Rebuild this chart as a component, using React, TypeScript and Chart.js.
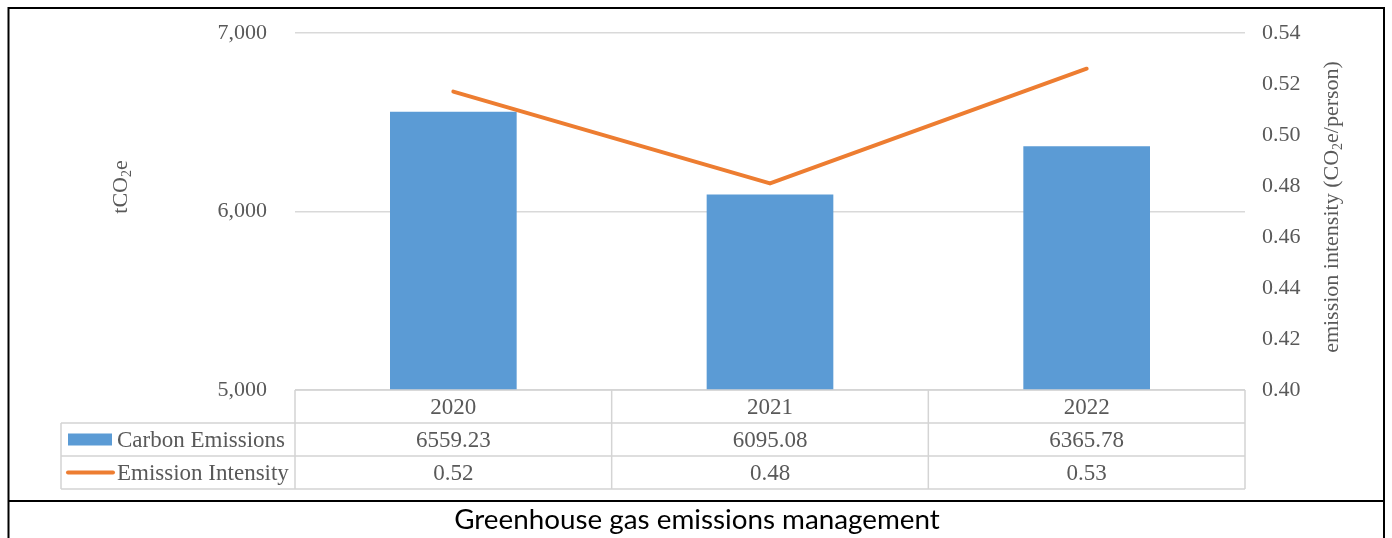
import React, { useEffect, useRef } from "react";
import { Chart, registerables } from "chart.js";

Chart.register(...registerables);

// ---- data ----
const years = ["2020", "2021", "2022"];
const carbonEmissions = [6559.23, 6095.08, 6365.78];
const emissionIntensity = [0.517, 0.481, 0.526];
const seriesNames = ["Carbon Emissions", "Emission Intensity"];
const leftAxisTitle = [
  { t: "tCO", sub: false },
  { t: "2", sub: true },
  { t: "e", sub: false },
];
const rightAxisTitle = [
  { t: "emission intensity (CO", sub: false },
  { t: "2", sub: true },
  { t: "e/person)", sub: false },
];
const caption = "Greenhouse gas emissions management";

const BLUE = "#5B9BD5";
const ORANGE = "#ED7D31";
const GRID = "#d9d9d9";
const TEXT = "#595959";
const SERIF = "'Liberation Serif', 'Times New Roman', serif";
const FS = 22;
const TFS = 23;

function drawVerticalWithSub(ctx: CanvasRenderingContext2D, parts: { t: string; sub: boolean }[], cx: number, cy: number, size: number) {
  const subSize = Math.round(size * 0.65);
  let total = 0;
  const widths = parts.map((p) => {
    ctx.font = `${p.sub ? subSize : size}px ${SERIF}`;
    const w = ctx.measureText(p.t).width;
    total += w;
    return w;
  });
  ctx.save();
  ctx.translate(cx, cy);
  ctx.rotate(-Math.PI / 2);
  ctx.fillStyle = TEXT;
  ctx.textBaseline = "middle";
  ctx.textAlign = "left";
  let x = -total / 2;
  parts.forEach((p, i) => {
    ctx.font = `${p.sub ? subSize : size}px ${SERIF}`;
    ctx.fillText(p.t, x, p.sub ? size * 0.28 : 0);
    x += widths[i];
  });
  ctx.restore();
}

const decorPlugin = {
  id: "decor",
  afterDraw(chart: any) {
    const ctx: CanvasRenderingContext2D = chart.ctx;
    const area = chart.chartArea;
    const xs = chart.scales.x;
    const n = years.length;
    const colW = (area.right - area.left) / n;
    const top = area.bottom;
    const rowH = 33;
    const legendLeft = 61;

    ctx.save();
    // table lines
    ctx.strokeStyle = "#d4d4d4";
    ctx.lineWidth = 1.5;
    ctx.beginPath();
    ctx.moveTo(area.left, top);
    ctx.lineTo(area.right, top);
    for (let r = 1; r <= 3; r++) {
      ctx.moveTo(legendLeft, top + r * rowH);
      ctx.lineTo(area.right, top + r * rowH);
    }
    ctx.moveTo(legendLeft, top + rowH);
    ctx.lineTo(legendLeft, top + 3 * rowH);
    for (let c = 0; c <= n; c++) {
      const x = area.left + c * colW;
      ctx.moveTo(x, top);
      ctx.lineTo(x, top + 3 * rowH);
    }
    ctx.stroke();

    // table text
    ctx.fillStyle = TEXT;
    ctx.font = `${TFS}px ${SERIF}`;
    ctx.textAlign = "center";
    ctx.textBaseline = "middle";
    for (let i = 0; i < n; i++) {
      const cx = xs.getPixelForValue(i);
      ctx.fillText(years[i], cx, top + rowH * 0.5 + 1);
      ctx.fillText(carbonEmissions[i].toFixed(2), cx, top + rowH * 1.5 + 1);
      ctx.fillText(emissionIntensity[i].toFixed(2), cx, top + rowH * 2.5 + 1);
    }

    // legend keys
    ctx.fillStyle = BLUE;
    ctx.fillRect(68, top + rowH * 1.5 - 6, 44, 12);
    ctx.strokeStyle = ORANGE;
    ctx.lineWidth = 4;
    ctx.lineCap = "round";
    ctx.beginPath();
    ctx.moveTo(68, top + rowH * 2.5);
    ctx.lineTo(113, top + rowH * 2.5);
    ctx.stroke();
    ctx.fillStyle = TEXT;
    ctx.textAlign = "left";
    ctx.fillText(seriesNames[0], 117, top + rowH * 1.5 + 1);
    ctx.fillText(seriesNames[1], 117, top + rowH * 2.5 + 1);

    // axis titles
    drawVerticalWithSub(ctx, leftAxisTitle, 121, 187, FS);
    drawVerticalWithSub(ctx, rightAxisTitle, 1332, 207, FS);

    // frame
    ctx.strokeStyle = "#000";
    ctx.lineWidth = 2;
    ctx.lineCap = "butt";
    ctx.beginPath();
    ctx.moveTo(8.5, 7);
    ctx.lineTo(8.5, 538);
    ctx.moveTo(7.5, 8);
    ctx.lineTo(1385, 8);
    ctx.moveTo(1384, 7);
    ctx.lineTo(1384, 538);
    ctx.moveTo(7.5, 501);
    ctx.lineTo(1385, 501);
    ctx.stroke();

    // caption
    ctx.fillStyle = "#000";
    ctx.textAlign = "center";
    ctx.textBaseline = "alphabetic";
    ctx.font = `24px Lato, 'Open Sans', sans-serif`;
    const w24 = ctx.measureText(caption).width;
    const size = Math.round(((24 * 486) / w24) * 10) / 10;
    ctx.font = `${size}px Lato, 'Open Sans', sans-serif`;
    ctx.fillText(caption, 697, 529);
    ctx.restore();
  },
};

export default function App() {
  const ref = useRef<HTMLCanvasElement | null>(null);
  useEffect(() => {
    if (!ref.current) return;
    const chart = new Chart(ref.current, {
      type: "bar",
      data: {
        labels: years,
        datasets: [
          {
            type: "line",
            label: seriesNames[1],
            data: emissionIntensity,
            yAxisID: "y1",
            borderColor: ORANGE,
            backgroundColor: ORANGE,
            borderWidth: 4,
            borderCapStyle: "round",
            borderJoinStyle: "round",
            pointRadius: 0,
            tension: 0,
            order: 0,
          } as any,
          {
            type: "bar",
            label: seriesNames[0],
            data: carbonEmissions,
            yAxisID: "y",
            backgroundColor: BLUE,
            borderWidth: 0,
            categoryPercentage: 1,
            barPercentage: 0.4,
            order: 1,
          },
        ],
      },
      plugins: [decorPlugin],
      options: {
        animation: false,
        responsive: false,
        devicePixelRatio: 1,
        layout: { padding: { top: 33, bottom: 148, left: 0, right: 0 } },
        plugins: { legend: { display: false }, tooltip: { enabled: false } },
        scales: {
          x: { display: false, offset: true },
          y: {
            position: "left",
            min: 5000,
            max: 7000,
            afterFit: (s: any) => {
              s.width = 295;
              s.paddingTop = 0;
              s.paddingBottom = 0;
            },
            ticks: {
              stepSize: 1000,
              padding: 28,
              color: TEXT,
              font: { family: SERIF, size: FS },
              callback: (v: any) => Number(v).toLocaleString("en-US"),
            },
            grid: { color: GRID, lineWidth: 1.5, drawTicks: false },
            border: { display: false },
          },
          y1: {
            position: "right",
            min: 0.4,
            max: 0.54,
            afterFit: (s: any) => {
              s.width = 147;
              s.paddingTop = 0;
              s.paddingBottom = 0;
            },
            ticks: {
              stepSize: 0.02,
              padding: 17,
              color: TEXT,
              font: { family: SERIF, size: FS },
              callback: (v: any) => Number(v).toFixed(2),
            },
            grid: { display: false, drawTicks: false },
            border: { display: false },
          },
        },
      },
    });
    return () => chart.destroy();
  }, []);
  return (
    <div style={{ position: "absolute", left: 0, top: 0, width: 1392, height: 538, background: "#fff" }}>
      <canvas ref={ref} width={1392} height={538} />
    </div>
  );
}
